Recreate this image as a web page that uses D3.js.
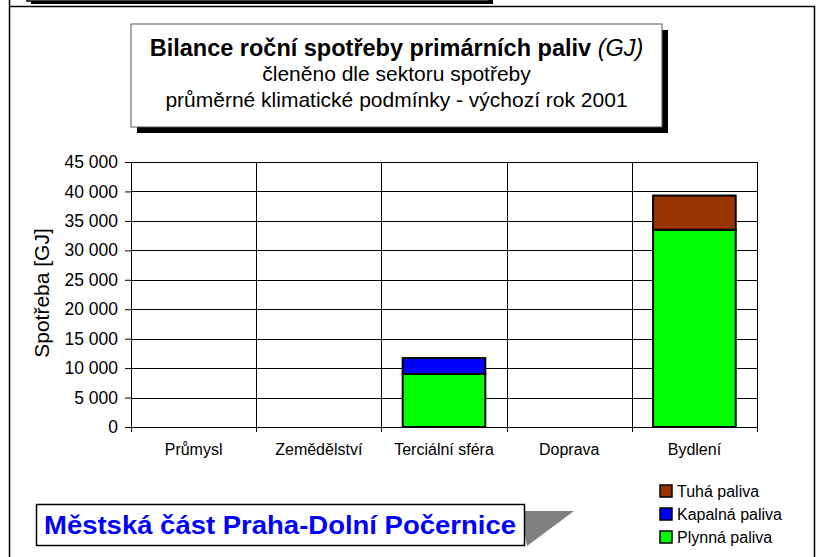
<!DOCTYPE html>
<html>
<head>
<meta charset="utf-8">
<script src="https://cdn.jsdelivr.net/npm/d3@7/dist/d3.min.js"></script>
<style>
  body { margin: 0; background: #fff; }
  svg { display: block; font-family: "Liberation Sans", Arial, sans-serif; }
</style>
</head>
<body>
<script>
const svgWidth = 816;
const svgHeight = 557;

// data
const categories = ["Průmysl", "Zemědělství", "Terciální sféra", "Doprava", "Bydlení"];
const plynna = [0, 0, 9000, 0, 33500];
const kapalna = [0, 0, 2700, 0, 0];
const tuha = [0, 0, 0, 0, 5800];
const yTicks = [0, 5000, 10000, 15000, 20000, 25000, 30000, 35000, 40000, 45000];

const seriesNames = ["Plynná paliva", "Kapalná paliva", "Tuhá paliva"];
const seriesColors = ["#00ff00", "#0000ff", "#993300"];

const titleLines = ["členěno dle sektoru spotřeby", "průměrné klimatické podmínky - výchozí rok 2001"];
const districtName = "Městská část Praha-Dolní Počernice";

var margin = {top: 162, left: 131, right: 59, bottom: 130};
var w = svgWidth - margin.left - margin.right;
var h = svgHeight - margin.top - margin.bottom;

var svg = d3.select("body").append("svg")
    .attr("width", svgWidth)
    .attr("height", svgHeight);

// page frame + box cut off at the top
svg.append("rect").attr("x", 31).attr("y", -40).attr("width", 462).attr("height", 44).attr("fill", "#000");
svg.append("rect").attr("x", 27).attr("y", -44).attr("width", 462).attr("height", 45)
    .attr("fill", "#fff").attr("stroke", "#000").attr("stroke-width", 1.5);
svg.append("path")
    .attr("d", "M9.5,0 V557 M9.5,6.5 H814.5 V557")
    .attr("fill", "none").attr("stroke", "#000").attr("stroke-width", 1.5);

// title box
const tb = {x: 131, y: 24, w: 531, h: 103};
svg.append("rect").attr("x", tb.x + 6).attr("y", tb.y + 6).attr("width", tb.w).attr("height", tb.h).attr("fill", "#000");
svg.append("rect").attr("x", tb.x).attr("y", tb.y).attr("width", tb.w).attr("height", tb.h)
    .attr("fill", "#fff").attr("stroke", "#555").attr("stroke-width", 1);

const t1 = svg.append("text")
    .attr("x", tb.x + tb.w / 2).attr("y", tb.y + 32)
    .attr("text-anchor", "middle").attr("font-size", 23.5);
t1.append("tspan").attr("font-weight", "bold").text("Bilance roční spotřeby primárních paliv ");
t1.append("tspan").attr("font-style", "italic").text(" (GJ)");

svg.selectAll(".sub")
    .data(titleLines)
    .enter().append("text")
    .attr("class", "sub")
    .attr("x", tb.x + tb.w / 2)
    .attr("y", (d, i) => tb.y + 57 + i * 26)
    .attr("text-anchor", "middle")
    .attr("font-size", 21)
    .text(d => d);

// chart
var g = svg.append("g").attr("transform", `translate(${margin.left},${margin.top})`);

const x = d3.scaleBand().domain(categories).range([0, w]).padding(0);
const y = d3.scaleLinear().domain([0, 45000]).range([h, 0]);

const locale = d3.formatLocale({decimal: ",", thousands: " ", grouping: [3], currency: ["", " Kč"]});
const fmt = locale.format(",.0f");

// horizontal grid
g.selectAll(".hgrid")
    .data(yTicks)
    .enter().append("line")
    .attr("x1", 0).attr("x2", w)
    .attr("y1", d => Math.round(y(d)) + 0.5).attr("y2", d => Math.round(y(d)) + 0.5)
    .attr("stroke", "#000").attr("stroke-width", 1);

// vertical grid at category boundaries
const bounds = categories.map(c => x(c)).concat([w]);
g.selectAll(".vgrid")
    .data(bounds)
    .enter().append("line")
    .attr("x1", d => Math.round(d) + 0.5).attr("x2", d => Math.round(d) + 0.5)
    .attr("y1", 0).attr("y2", h + 5)
    .attr("stroke", "#000").attr("stroke-width", 1);

// y axis
const yAxis = d3.axisLeft(y).tickValues(yTicks).tickFormat(fmt).tickSize(6).tickPadding(7);
const ya = g.append("g").call(yAxis);
ya.select(".domain").remove();
ya.selectAll("text").attr("font-size", 17.5).attr("font-family", "Liberation Sans, Arial, sans-serif").attr("fill", "#000");
ya.selectAll("line").attr("stroke", "#000");

// x labels
g.selectAll(".xlab")
    .data(categories)
    .enter().append("text")
    .attr("x", d => x(d) + x.bandwidth() / 2)
    .attr("y", h + 28)
    .attr("text-anchor", "middle")
    .attr("font-size", 16)
    .text(d => d);

// stacked bars
const table = categories.map((c, i) => ({cat: c, "Plynná paliva": plynna[i], "Kapalná paliva": kapalna[i], "Tuhá paliva": tuha[i]}));
const stack = d3.stack().keys(seriesNames)(table);

const barW = x.bandwidth() * 0.66;
const barOff = x.bandwidth() * 0.17;

g.selectAll(".layer")
    .data(stack)
    .enter().append("g")
    .attr("fill", (d, i) => seriesColors[i])
    .selectAll("rect")
    .data(d => d.filter(p => p[1] - p[0] > 0))
    .enter().append("rect")
    .attr("x", d => x(d.data.cat) + barOff)
    .attr("y", d => y(d[1]))
    .attr("width", barW)
    .attr("height", d => y(d[0]) - y(d[1]))
    .attr("stroke", "#000")
    .attr("stroke-width", 2);

// y title
svg.append("text")
    .attr("transform", "translate(49,293) rotate(-90)")
    .attr("text-anchor", "middle")
    .attr("font-size", 21)
    .text("Spotřeba [GJ]");

// legend (top to bottom: reverse of stack)
const legendData = seriesNames.map((n, i) => ({name: n, color: seriesColors[i]})).reverse();
const legend = svg.selectAll(".leg")
    .data(legendData)
    .enter().append("g")
    .attr("transform", (d, i) => `translate(660,${485 + i * 23})`);
legend.append("rect")
    .attr("width", 12).attr("height", 12)
    .attr("fill", d => d.color).attr("stroke", "#000").attr("stroke-width", 1.5);
legend.append("text")
    .attr("x", 17).attr("y", 11.5)
    .attr("font-size", 16)
    .text(d => d.name);

// district label with grey wedge
svg.append("path")
    .attr("d", "M520,511 L574,511 L527,546 Z")
    .attr("fill", "#808080");
svg.append("rect")
    .attr("x", 36.5).attr("y", 504.5).attr("width", 488).attr("height", 41)
    .attr("fill", "#fff").attr("stroke", "#000").attr("stroke-width", 1.5);
svg.append("text")
    .attr("x", 280).attr("y", 534)
    .attr("text-anchor", "middle")
    .attr("font-size", 25).attr("font-weight", "bold")
    .attr("textLength", 472).attr("lengthAdjust", "spacingAndGlyphs")
    .attr("fill", "#0000ff")
    .text(districtName);
</script>
</body>
</html>
